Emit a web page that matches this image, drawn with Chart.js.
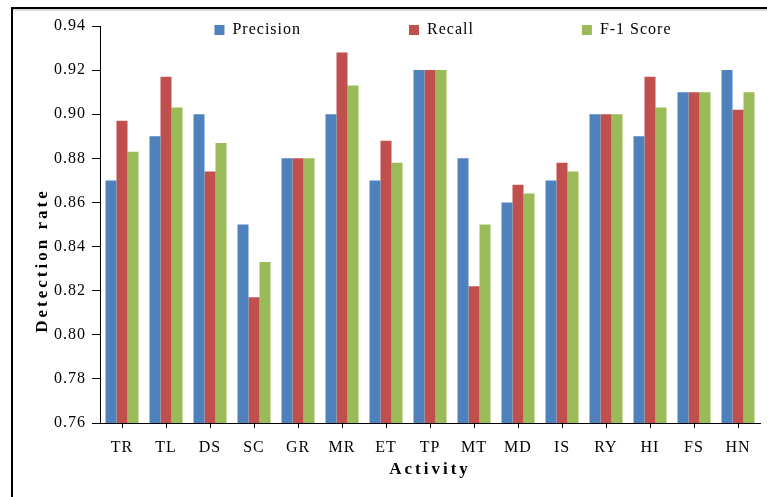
<!DOCTYPE html>
<html>
<head>
<meta charset="utf-8">
<script src="https://cdn.jsdelivr.net/npm/chart.js@4.4.1/dist/chart.umd.min.js"></script>
<style>
    html, body { margin: 0; padding: 0; background: #fff; }
    #wrap { position: relative; width: 767px; height: 497px; }
    #chart { position: absolute; left: 0; top: 0; }
    /* frame lines of the original figure (top and left only) */
    #frame {
        position: absolute; left: 11px; top: 7px; right: 0; bottom: 0;
        border-top: 2px solid #000; border-left: 2px solid #000;
        box-shadow: inset 0 2px 0 #d8d8d8;
        pointer-events: none;
    }
</style>
</head>
<body>
<div id="wrap">
    <canvas id="chart" width="767" height="497"></canvas>
    <div id="frame"></div>
</div>
<script>
// Activities
const activities = ['TR', 'TL', 'DS', 'SC', 'GR', 'MR', 'ET', 'TP', 'MT', 'MD', 'IS', 'RY', 'HI', 'FS', 'HN'];

// Series values
const precision = [0.870, 0.890, 0.900, 0.850, 0.880, 0.900, 0.870, 0.920, 0.880, 0.860, 0.870, 0.900, 0.890, 0.910, 0.920];
const recall    = [0.897, 0.917, 0.874, 0.817, 0.880, 0.928, 0.888, 0.920, 0.822, 0.868, 0.878, 0.900, 0.917, 0.910, 0.902];
const f1Score   = [0.883, 0.903, 0.887, 0.833, 0.880, 0.913, 0.878, 0.920, 0.850, 0.864, 0.874, 0.900, 0.903, 0.910, 0.910];

// Y axis range
const yMin = 0.76;
const yMax = 0.94;
const yStep = 0.02;

const FONT = "'Liberation Serif', 'Times New Roman', serif";

// Axis titles are letter-spaced in the original, so wrap drawTitle
const baseDrawTitle = Chart.Scale.prototype.drawTitle;
Chart.Scale.prototype.drawTitle = function () {
    const ctx = this.ctx;
    ctx.save();
    ctx.letterSpacing = '3px';
    if (this.axis === 'y') ctx.translate(0, 36);
    baseDrawTitle.call(this);
    ctx.restore();
};

// Text spacing + legend placement (legend overlaps the top of the plot)
const figurePlugin = {
    id: 'figure',
    beforeUpdate(chart) {
        chart.ctx.letterSpacing = '1px';
    },
    afterLayout(chart) {
        const lg = chart.legend;
        if (!lg) return;
        const p = lg.options.labels.padding;
        lg.top = 30 - p - 8;
        lg.bottom = 46;   // legend clips to its own box
        lg.left += 63;
        lg.right += 63;
    },
    beforeDraw(chart) {
        chart.ctx.letterSpacing = '1px';
    }
};

new Chart(document.getElementById('chart'), {
    type: 'bar',
    data: {
        labels: activities,
        datasets: [
            { label: 'Precision', data: precision, backgroundColor: '#4F81BD' },
            { label: 'Recall', data: recall, backgroundColor: '#C0504D' },
            { label: 'F-1 Score', data: f1Score, backgroundColor: '#9BBB59' }
        ]
    },
    options: {
        responsive: false,
        animation: false,
        devicePixelRatio: 1,
        layout: { padding: { left: 0, right: 7, top: 0, bottom: 0 } },
        datasets: {
            bar: { categoryPercentage: 0.75, barPercentage: 1.0, borderWidth: 0 }
        },
        plugins: {
            legend: {
                position: 'top',
                maxHeight: 26,
                labels: {
                    boxWidth: 10,
                    boxHeight: 10,
                    padding: 108,
                    color: '#000',
                    font: { family: FONT, size: 16 }
                }
            },
            tooltip: { enabled: false }
        },
        scales: {
            x: {
                afterFit: (scale) => { scale.height = 74; },
                grid: {
                    display: true,
                    drawOnChartArea: false,
                    offset: false,
                    tickLength: 5,
                    color: '#000'
                },
                border: { color: '#000', width: 1 },
                ticks: {
                    autoSkip: false,
                    maxRotation: 0,
                    padding: 10,
                    color: '#000',
                    font: { family: FONT, size: 16 }
                },
                title: {
                    display: true,
                    text: 'Activity',
                    color: '#000',
                    padding: { top: 0, bottom: 17 },
                    font: { family: FONT, size: 17, weight: 'bold' }
                }
            },
            y: {
                min: yMin,
                max: yMax,
                afterFit: (scale) => { scale.width = 100; },
                grid: {
                    display: true,
                    drawOnChartArea: false,
                    tickLength: 8,
                    color: '#000'
                },
                border: { color: '#000', width: 1 },
                ticks: {
                    stepSize: yStep,
                    padding: 6,
                    color: '#000',
                    font: { family: FONT, size: 16 },
                    callback: (v) => v.toFixed(2)
                },
                title: {
                    display: true,
                    text: 'Detection rate',
                    color: '#000',
                    padding: { top: 32, bottom: 0 },
                    font: { family: FONT, size: 17, weight: 'bold' }
                }
            }
        }
    },
    plugins: [figurePlugin]
});
</script>
</body>
</html>
